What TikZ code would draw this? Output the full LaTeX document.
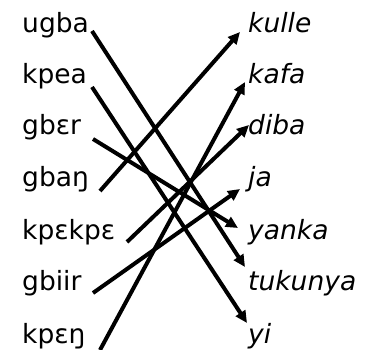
\documentclass[tikz,border=0pt]{standalone}
\usepackage{fontspec}
\setmainfont{DejaVu Sans}
\usetikzlibrary{arrows.meta}
\begin{document}
\begin{tikzpicture}[x=1pt,y=-1pt,
  word/.style={anchor=base west,inner sep=0pt,font=\fontsize{26.5}{30}\selectfont},
  gloss/.style={word,font=\fontsize{26.5}{30}\selectfont\itshape},
  link/.style={line width=4pt,-{Triangle[length=12pt,width=11pt]}}]
\useasboundingbox (0,0) rectangle (367,350);
% source words
\node[word] (ugba)   at (22,33)  {ugba};
\node[word] (kpea)   at (22,84)  {kpea};
\node[word] (gber)   at (22,135) {gbɛr};
\node[word] (gban)   at (22,186) {gbaŋ};
\node[word] (kpekpe) at (22,240) {kpɛkpɛ};
\node[word] (gbiir)  at (22,290) {gbiir};
\node[word] (kpen)   at (22,343) {kpɛŋ};
% glosses
\node[gloss] (kulle)   at (248,33)  {kulle};
\node[gloss] (kafa)    at (248,84)  {kafa};
\node[gloss] (diba)    at (248,135) {diba};
\node[gloss] (ja)      at (248,186) {ja};
\node[gloss] (yanka)   at (248,240) {yanka};
\node[gloss] (tukunya) at (248,290) {tukunya};
\node[gloss] (yi)      at (248,343) {yi};
% connectors
\draw[link] ([shift={(70,-2)}]ugba.base west)   -- ([shift={(-3,-23)}]tukunya.base west);
\draw[link] ([shift={(70,3)}]kpea.base west)    -- ([shift={(-1,-20)}]yi.base west);
\draw[link] ([shift={(71,4)}]gber.base west)    -- ([shift={(-10,-12)}]yanka.base west);
\draw[link] ([shift={(78,5)}]gban.base west)    -- ([shift={(-8,-1)}]kulle.base west);
\draw[link] ([shift={(105,2)}]kpekpe.base west) -- ([shift={(1,-10)}]diba.base west);
\draw[link] ([shift={(71,3)}]gbiir.base west)   -- ([shift={(-8,3)}]ja.base west);
\draw[link] ([shift={(78,7)}]kpen.base west)    -- ([shift={(-3,-2)}]kafa.base west);
\end{tikzpicture}
\end{document}
